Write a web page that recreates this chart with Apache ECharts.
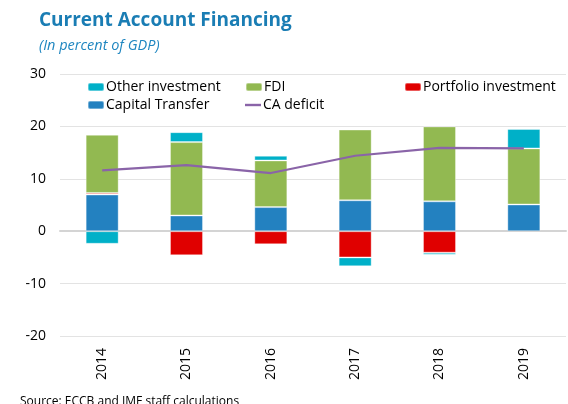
<!DOCTYPE html>
<html>
<head>
<meta charset="utf-8">
<script src="https://cdn.jsdelivr.net/npm/echarts@6/dist/echarts.min.js"></script>
<style>
  html, body { margin: 0; padding: 0; background: #fff; }
  #chart { width: 568px; height: 404px; }
</style>
</head>
<body>
<div id="chart"></div>
<script>
// values, % of GDP
var years = ['2014', '2015', '2016', '2017', '2018', '2019'];
var capitalTransfer = [7.0, 3.0, 4.6, 5.9, 5.7, 5.1];
var portfolio = [0.3, -4.6, -2.5, -5.0, -4.1, 0];
var fdi = [11.1, 14.0, 8.9, 13.5, 14.3, 10.7];
var otherInvestment = [-2.4, 1.9, 0.9, -1.7, -0.4, 3.7];
var caDeficit = [11.6, 12.6, 11.1, 14.4, 15.9, 15.8];

var font = 'Open Sans';
var chart = echarts.init(document.getElementById('chart'));

function legendAt(item, left, top) {
    return {
        data: [item],
        left: left,
        top: top,
        padding: 0,
        itemWidth: 16,
        itemHeight: 8,
        textStyle: { fontFamily: font, fontSize: 14, color: '#000', padding: [0, 0, 0, -3] }
    };
}

function bar(name, data, color) {
    return {
        name: name,
        type: 'bar',
        stack: 'fin',
        barWidth: 33,
        data: data,
        itemStyle: { color: color, borderColor: 'rgba(255,255,255,0.35)', borderWidth: 1 }
    };
}

chart.setOption({
    animation: false,
    title: [
        {
            text: 'Current Account Financing',
            left: 34, top: 6,
            textStyle: { fontFamily: font, fontSize: 19, fontWeight: 'bold', color: '#1a7db4' }
        },
        {
            text: '(In percent of GDP)',
            left: 34, top: 33,
            textStyle: { fontFamily: font, fontSize: 14.5, fontStyle: 'italic', fontWeight: 'normal', color: '#1f86c0' }
        },
        {
            text: 'Source: ECCB and IMF staff calculations',
            left: 15, top: 391,
            textStyle: { fontFamily: font, fontSize: 12, fontWeight: 'normal', color: '#000' }
        }
    ],
    legend: [
        legendAt('Other investment', 87, 80),
        legendAt('FDI', 245, 80),
        legendAt('Portfolio investment', 404, 80),
        legendAt('Capital Transfer', 87, 98),
        legendAt({ name: 'CA deficit', icon: 'path://M0,0 L16,0 L16,2.4 L0,2.4 Z' }, 245, 98)
    ],
    grid: { left: 60, right: 2, top: 74, bottom: 68 },
    xAxis: [
        {
            type: 'category',
            data: years,
            axisLine: { onZero: true, lineStyle: { color: '#d4d4d4', width: 2 } },
            axisTick: { inside: true, length: 5, lineStyle: { color: '#d4d4d4' } },
            axisLabel: { show: false }
        },
        {
            type: 'category',
            data: years,
            position: 'bottom',
            axisLine: { show: false, onZero: false },
            axisTick: { show: false },
            axisLabel: { rotate: 90, margin: 12, fontFamily: font, fontSize: 14, color: '#000' }
        }
    ],
    yAxis: {
        type: 'value',
        min: -20, max: 30, interval: 10,
        axisLine: { show: false },
        axisTick: { show: false },
        axisLabel: { margin: 14, fontFamily: font, fontSize: 14, color: '#000' },
        splitLine: { lineStyle: { color: '#e3e3e3', width: 1 } }
    },
    series: [
        bar('Capital Transfer', capitalTransfer, '#2381c0'),
        bar('Portfolio investment', portfolio, '#e00000'),
        bar('FDI', fdi, '#92b951'),
        bar('Other investment', otherInvestment, '#00b0c8'),
        {
            name: 'CA deficit',
            type: 'line',
            data: caDeficit,
            symbol: 'none',
            lineStyle: { color: '#8a64a8', width: 2.2 },
            itemStyle: { color: '#8a64a8' },
            z: 5
        }
    ]
});
</script>
</body>
</html>
